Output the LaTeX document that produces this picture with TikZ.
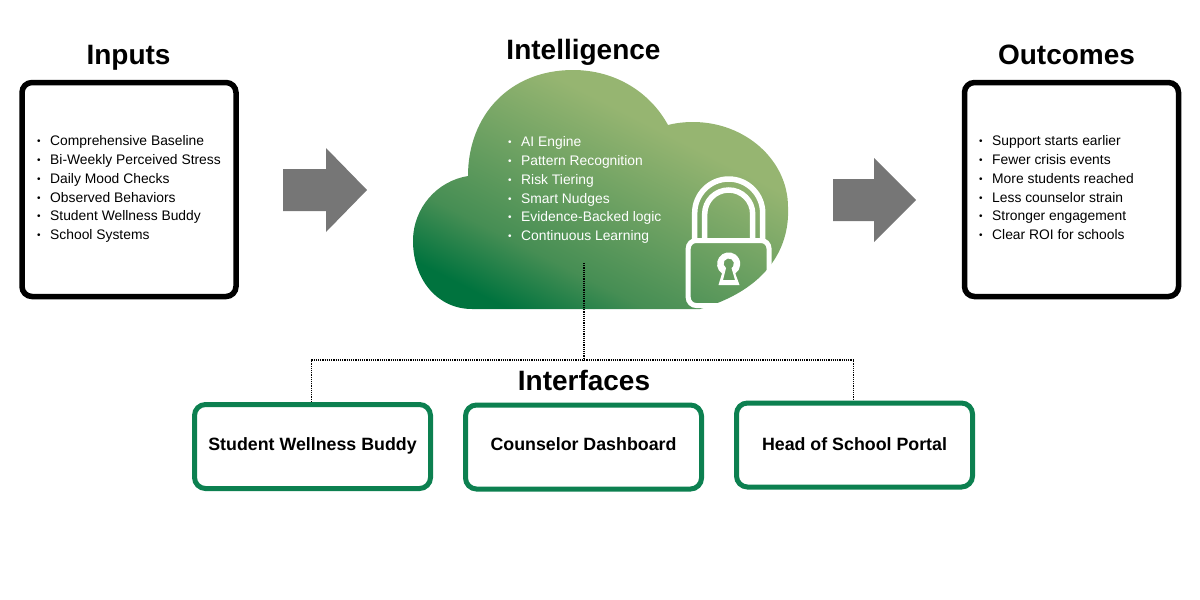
\documentclass[tikz,border=0pt]{standalone}
\usepackage{fontspec}
\setmainfont{Liberation Sans}
\definecolor{leafdark}{RGB}{0,115,62}
\definecolor{leafmid}{RGB}{70,142,84}
\definecolor{leaflight}{RGB}{150,181,113}
\definecolor{boxgreen}{RGB}{12,128,80}
\definecolor{arrowgray}{RGB}{118,118,118}
\pgfdeclareverticalshading{cloudshade}{100bp}{color(0bp)=(leafdark); color(24bp)=(leafdark); color(35bp)=(leafmid); color(64bp)=(leaflight); color(100bp)=(leaflight)}
\newcommand{\bul}{\strut\makebox[13pt][l]{\raisebox{1pt}{\fontsize{10}{10}\selectfont\textbullet}}}
\tikzset{
  heading/.style={font=\fontsize{28}{30}\selectfont\bfseries, anchor=base, inner sep=0pt},
  blackbox/.style={draw=black, line width=5.5pt, rounded corners=10pt, minimum width=214pt, minimum height=214pt, inner sep=0pt},
  greenbox/.style={draw=boxgreen, line width=5pt, rounded corners=11pt, minimum width=236pt, minimum height=84pt, inner sep=0pt, font=\fontsize{17.8}{20}\selectfont\bfseries, text height=14pt, text depth=7pt},
  itemlist/.style={font=\fontsize{13.85}{18.7}\selectfont, align=left, anchor=west, inner sep=0pt},
  flowarrow/.style={fill=arrowgray},
  lockline/.style={draw=white, line width=5.5pt},
  linkline/.style={draw=black, line width=1.2pt, dash pattern=on 1.2pt off 1pt}
}
\begin{document}
\begin{tikzpicture}[x=1pt,y=-1pt]
  \useasboundingbox (0,0) rectangle (1200,600);

  \shade[shading=cloudshade, shading angle=-27] (472,309)
    .. controls (437,309) and (413,279) .. (413,241)
    .. controls (413,208) and (437,181) .. (468,176)
    .. controls (468,115) and (510,70) .. (573,70)
    .. controls (615,70) and (650,92) .. (668,125)
    .. controls (676,123) and (684,122) .. (693,122)
    .. controls (745,122) and (788,160) .. (788,207)
    .. controls (790,250) and (765,290) .. (700,309) -- cycle;

  \draw[lockline] (694.7,240) -- (694.7,213) arc (180:360:34) -- (762.7,240);
  \draw[lockline] (704.7,240) -- (704.7,214) arc (180:360:24) -- (752.7,240);
  \draw[lockline, line width=5pt, rounded corners=8pt] (688.2,240.5) rectangle (769,305.5);
  \fill[white, even odd rule] (718.5,285) -- (722,273.5) arc (125:415:11.6) -- (739.5,285) -- cycle
    (723,280) -- (726,268) arc (122:418:5.2) -- (735,280) -- cycle;

  \node[heading] (inputstitle) at (128.5,64) {Inputs};
  \node[heading] (intelligencetitle) at (583.5,59.5) {Intelligence};
  \node[heading] (outcomestitle) at (1066.5,64) {Outcomes};
  \node[heading] (interfacestitle) at (584,390.5) {Interfaces};

  \node[blackbox] (inputs) at (129,189.5) {};
  \node[blackbox] (outcomes) at (1071.5,189.5) {};

  \node[itemlist] (inputlist) at (37,189) {\bul Comprehensive Baseline\\\bul Bi-Weekly Perceived Stress\\\bul Daily Mood Checks\\\bul Observed Behaviors\\\bul Student Wellness Buddy\\\bul School Systems};
  \node[itemlist, text=white] (intellist) at (508,190) {\bul AI Engine\\\bul Pattern Recognition\\\bul Risk Tiering\\\bul Smart Nudges\\\bul Evidence-Backed logic\\\bul Continuous Learning};
  \node[itemlist] (outcomelist) at (979,189) {\bul Support starts earlier\\\bul Fewer crisis events\\\bul More students reached\\\bul Less counselor strain\\\bul Stronger engagement\\\bul Clear ROI for schools};

  \fill[flowarrow] (283,169) -- (326,169) -- (326,148) -- (367,190) -- (326,232) -- (326,211) -- (283,211) -- cycle;
  \fill[flowarrow] (833,179) -- (874,179) -- (874,158) -- (916,200) -- (874,242) -- (874,221) -- (833,221) -- cycle;

  \node[greenbox] (studentbox) at (312.5,446.5) {Student Wellness Buddy};
  \node[greenbox, text depth=8pt] (counselorbox) at (583.5,447) {Counselor Dashboard};
  \node[greenbox, text height=16pt, text depth=6pt] (headbox) at (854.5,445) {Head of School Portal};

  \coordinate (cloudbase) at (584,263);
  \coordinate (split) at (584,360);
  \draw[linkline] (cloudbase) -- (split);
  \draw[linkline] ([xshift=-1pt]studentbox.north) |- ([xshift=-1pt]headbox.north |- split) -- ([xshift=-1pt]headbox.north);
\end{tikzpicture}
\end{document}
